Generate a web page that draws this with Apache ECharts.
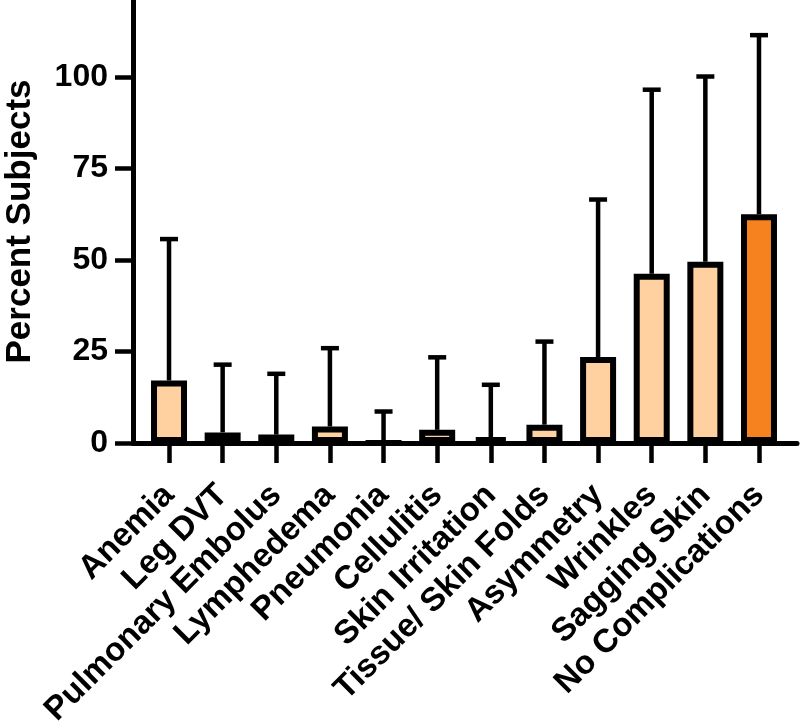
<!DOCTYPE html>
<html><head><meta charset="utf-8">
<script src="https://cdn.jsdelivr.net/npm/echarts@6/dist/echarts.min.js"></script>
<style>html,body{margin:0;padding:0;background:#fff}#c{width:800px;height:724px}</style>
</head><body><div id="c"></div>
<script>
const categories = ['Anemia','Leg DVT','Pulmonary Embolus','Lymphedema','Pneumonia','Cellulitis','Skin Irritation','Tissue/ Skin Folds','Asymmetry','Wrinkles','Sagging Skin','No Complications'];
const meanValues = [17.1, 2.9, 2.3, 4.5, 0, 3.6, 1.6, 5.0, 23.5, 46.2, 49.5, 62.5];
const sdValues = [38.6, 18.5, 16.6, 21.4, 8.6, 19.8, 14.3, 22.7, 43.0, 50.3, 50.6, 48.9];
const yTicks = [0, 25, 50, 75, 100];
const yTitle = 'Percent Subjects';
const highlightCategory = 'No Complications';

const FONT = '"Liberation Sans", Arial, Helvetica, sans-serif';
const LIGHT = '#FFD1A1', DARK = '#F5821F';

const chart = echarts.init(document.getElementById('c'), null, {renderer: 'canvas'});
const option = {
  animation: false,
  backgroundColor: '#fff',
  grid: [
    {left: 133, right: 3, top: 0, height: 443, containLabel: false, outerBoundsMode: 'none'},
    {left: 142.2, width: 643.6, top: 0, height: 443, containLabel: false, outerBoundsMode: 'none'}
  ],
  xAxis: [
    {type: 'value', gridIndex: 0, min: 0, max: 1,
     axisLine: {show: true, lineStyle: {color: '#000', width: 5}},
     axisTick: {show: false}, axisLabel: {show: false}, splitLine: {show: false}},
    {type: 'category', gridIndex: 1, data: categories,
     axisLine: {show: false},
     axisTick: {show: true, alignWithLabel: true, length: 20, lineStyle: {color: '#000', width: 4.5}},
     axisLabel: {interval: 0, rotate: 45, margin: 47, fontSize: 33, fontWeight: 'bold', color: '#000', fontFamily: FONT},
     splitLine: {show: false}}
  ],
  yAxis: [
    {type: 'value', gridIndex: 0, min: 0, max: 121,
     name: yTitle, nameLocation: 'middle', nameGap: 95, nameMoveOverlap: false,
     nameTextStyle: {fontSize: 35, fontWeight: 'bold', color: '#000', fontFamily: FONT},
     axisLine: {show: true, lineStyle: {color: '#000', width: 5}},
     axisTick: {show: true, length: 18, customValues: yTicks, lineStyle: {color: '#000', width: 4.5}},
     axisLabel: {customValues: yTicks, margin: 25, fontSize: 32, fontWeight: 'bold', color: '#000', fontFamily: FONT},
     splitLine: {show: false}},
    {type: 'value', gridIndex: 1, min: 0, max: 121, show: false}
  ],
  series: [
    {type: 'bar', xAxisIndex: 1, yAxisIndex: 1, barWidth: 36,
     data: meanValues.map((v, i) => ({value: v, itemStyle: {color: categories[i] === highlightCategory ? DARK : LIGHT}})),
     itemStyle: {borderColor: '#000', borderWidth: 6}, z: 3},
    {type: 'custom', xAxisIndex: 1, yAxisIndex: 1, z: 2,
     data: categories.map((c, i) => [i, meanValues[i], sdValues[i]]),
     renderItem: function (params, api) {
       const i = api.value(0), m = api.value(1), s = api.value(2);
       const base = api.coord([i, m]);
       const top = api.coord([i, m + s]);
       const half = 9;
       return {type: 'group', children: [
         {type: 'line', shape: {x1: base[0], y1: base[1], x2: top[0], y2: top[1]}, style: {stroke: '#000', lineWidth: 4.5}},
         {type: 'line', shape: {x1: top[0] - half, y1: top[1], x2: top[0] + half, y2: top[1]}, style: {stroke: '#000', lineWidth: 4.5}}
       ]};
     }}
  ]
};
chart.setOption(option);
</script></body></html>
